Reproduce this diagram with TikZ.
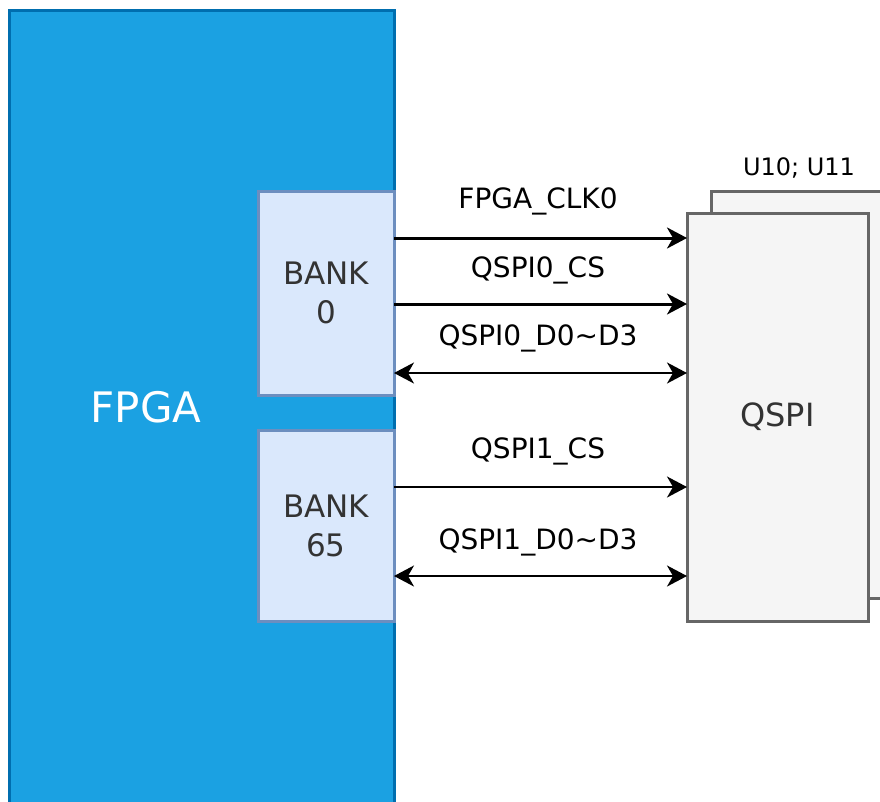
\documentclass[tikz,border=0pt]{standalone}
\usepackage{fontspec}
\setmainfont{DejaVu Sans}
\usetikzlibrary{arrows.meta}
\definecolor{fpgafill}{HTML}{1BA1E2}
\definecolor{fpgaline}{HTML}{006EAF}
\definecolor{bankfill}{HTML}{DAE8FC}
\definecolor{bankline}{HTML}{6C8EBF}
\definecolor{chipfill}{HTML}{F5F5F5}
\definecolor{chipline}{HTML}{666666}
\definecolor{chiptext}{HTML}{333333}
\tikzset{
  blk/.style={rectangle, inner sep=0pt, outer sep=0pt, line width=3pt, anchor=north west},
  fpgabox/.style={blk, fill=fpgafill, draw=fpgaline},
  bankbox/.style={blk, fill=bankfill, draw=bankline, text=chiptext, align=center,
     font=\fontsize{31}{39}\selectfont},
  chipbox/.style={blk, fill=chipfill, draw=chipline, text=chiptext,
     font=\fontsize{32}{38}\selectfont},
  sig/.style={font=\fontsize{28}{32}\selectfont, text=black, inner sep=0pt},
  myarr/.tip={Stealth[length=20pt,width=21pt,inset=6pt]},
  thickw/.style={line width=3pt},
  thinw/.style={line width=2pt},
}
\begin{document}
\begin{tikzpicture}[x=1pt,y=-1pt]
\useasboundingbox (0,0) rectangle (880,801);
\clip (0,0) rectangle (880,801);
% FPGA
\node[fpgabox, minimum width=385pt, minimum height=830pt] (fpga) at (9,10) {};
\node[font=\fontsize{42}{48}\selectfont, text=white, inner sep=0pt] (fpgalabel) at (146,407) {FPGA};
% banks
\node[bankbox, minimum width=136pt, minimum height=204pt] (bank0) at (258,191) {BANK\\0};
\node[bankbox, minimum width=136pt, minimum height=191pt] (bank65) at (258,430) {BANK\\65};
% QSPI chips
\node[chipbox, minimum width=200pt, minimum height=407pt] (qspiback) at (711,191) {};
\node[chipbox, minimum width=181pt, minimum height=408pt] (qspi) at (687,213) {QSPI};
\node[sig, font=\fontsize{24}{28}\selectfont] (ulabel) at (799,168) {U10; U11};
% signals
\coordinate (y1) at (0,238);
\coordinate (y2) at (0,304);
\coordinate (y3) at (0,373);
\coordinate (y4) at (0,487);
\coordinate (y5) at (0,576);
\draw[thickw, -{myarr}] (bank0.east |- y1) -- (qspi.west |- y1);
\draw[thickw, -{myarr}] (bank0.east |- y2) -- (qspi.west |- y2);
\draw[thinw, {myarr}-{myarr}] (bank0.east |- y3) -- (qspi.west |- y3);
\draw[thinw, -{myarr}] (bank65.east |- y4) -- (qspi.west |- y4);
\draw[thinw, {myarr}-{myarr}] (bank65.east |- y5) -- (qspi.west |- y5);
\node[sig] (l1) at (538,201) {FPGA\_CLK0};
\node[sig] (l2) at (538,270) {QSPI0\_CS};
\node[sig] (l3) at (538,338) {QSPI0\_D0\textasciitilde D3};
\node[sig] (l4) at (538,451) {QSPI1\_CS};
\node[sig] (l5) at (538,542) {QSPI1\_D0\textasciitilde D3};
\end{tikzpicture}
\end{document}
